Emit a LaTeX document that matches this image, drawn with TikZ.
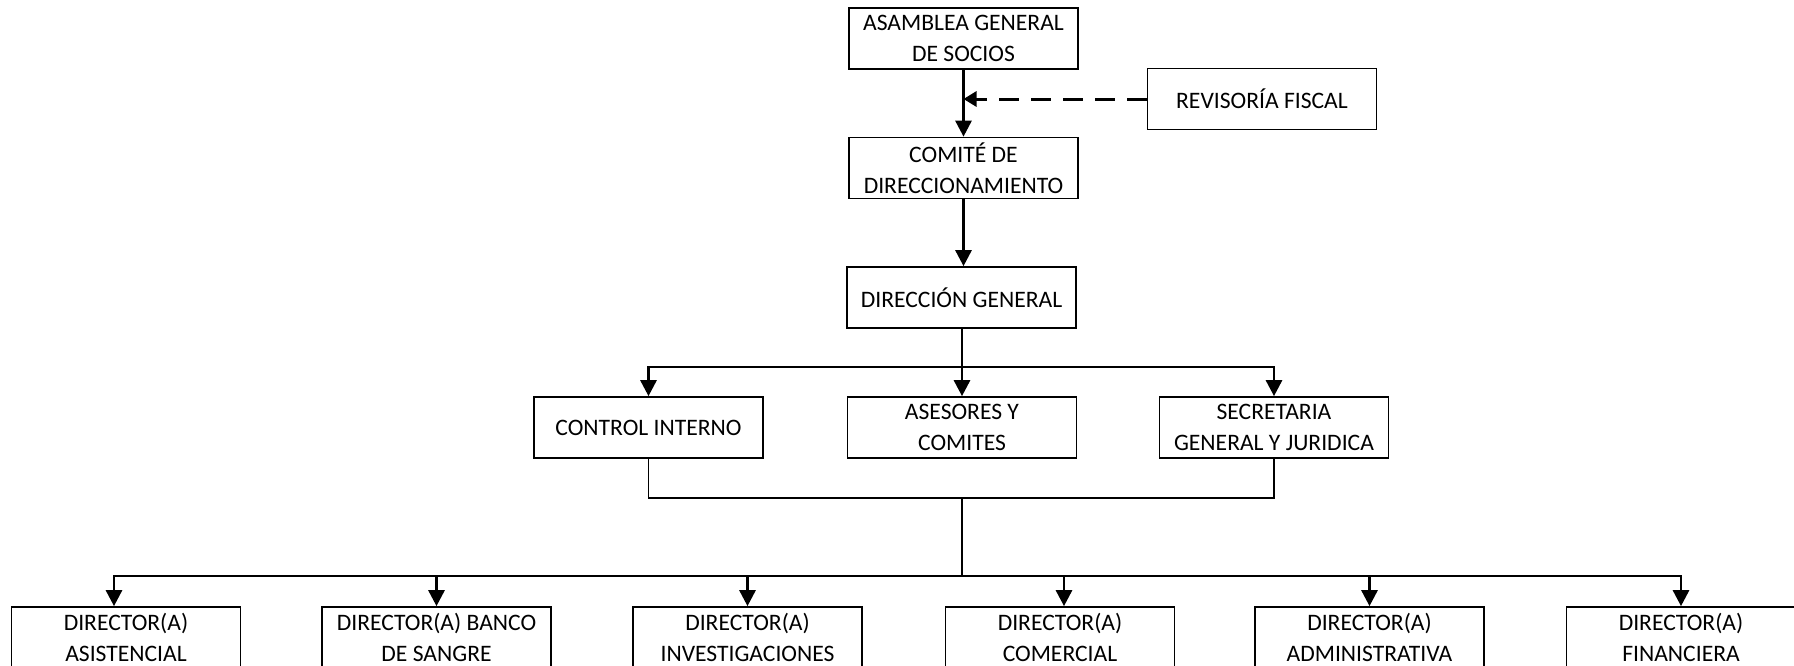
\documentclass[tikz,border=0pt]{standalone}
\usepackage{fontspec}
\setmainfont{Carlito}
\usetikzlibrary{arrows.meta}
\begin{document}
\begin{tikzpicture}[x=0.5pt,y=-0.5pt,
  box/.style={draw,line width=0.85pt,minimum width=114.5pt,minimum height=30.5pt,inner sep=0pt,align=center,
    font=\fontsize{11.8}{15.5}\selectfont},
  two/.style={box,execute at begin node={\rule{0pt}{10.5pt}}},
  conn/.style={line width=1.4pt,-{Triangle[length=8pt,width=8pt]}},
  plain/.style={line width=1.4pt},
  thinline/.style={line width=0.85pt},
  dashconn/.style={line width=1.5pt,dash pattern=on 10pt off 6pt,-{Triangle[length=6.5pt,width=7.5pt]}}]
\useasboundingbox (0,0) rectangle (1794,665);
\clip (0,0) rectangle (1794,665);
\node[two] (asam) at (963.5,38.5) {ASAMBLEA GENERAL\\DE SOCIOS};
\node[box] (rev) at (1262,99) {REVISORÍA FISCAL};
\node[two] (com) at (963.5,168) {COMITÉ DE\\DIRECCIONAMIENTO};
\node[box] (dir) at (961.5,297.5) {DIRECCIÓN GENERAL};
\node[box] (ctrl) at (648.5,427.5) {CONTROL INTERNO};
\node[two] (ases) at (962,427.5) {ASESORES Y\\COMITES};
\node[two] (secr) at (1274,427.5) {SECRETARIA\\GENERAL Y JURIDICA};
\node[two] (b1) at (126,637.5) {DIRECTOR(A)\\ASISTENCIAL};
\node[two] (b2) at (436.5,637.5) {DIRECTOR(A) BANCO\\DE SANGRE};
\node[two] (b3) at (747.5,637.5) {DIRECTOR(A)\\INVESTIGACIONES};
\node[two] (b4) at (1060,637.5) {DIRECTOR(A)\\COMERCIAL};
\node[two] (b5) at (1369.5,637.5) {DIRECTOR(A)\\ADMINISTRATIVA};
\node[two] (b6) at (1681,637.5) {DIRECTOR(A)\\FINANCIERA};
\coordinate (bar1) at (962,367);
\coordinate (join) at (962,498);
\coordinate (bar2) at (962,576);
% top chain
\draw[conn] (asam.south) -- (com.north);
\draw[dashconn] (rev.west) -- (rev.west -| asam.south);
\draw[conn] (com.south) -- (dir.north -| com.south);
\draw[conn] (dir.south -| ases.north) -- (ases.north);
\draw[conn] (bar1) -| (ctrl.north);
\draw[conn] (bar1) -| (secr.north);
% join of middle boxes
\draw[thinline] (ctrl.south) |- (join) -| (secr.south);
\draw[plain] (join) -- (bar2);
% bottom bar
\draw[conn] (bar2) -| ([xshift=-6pt]b1.north);
\draw[conn] (bar2) -| (b2.north);
\draw[conn] (bar2) -| (b3.north);
\draw[conn] (bar2) -| ([xshift=2pt]b4.north);
\draw[conn] (bar2) -| (b5.north);
\draw[conn] (bar2) -| (b6.north);
\end{tikzpicture}
\end{document}
